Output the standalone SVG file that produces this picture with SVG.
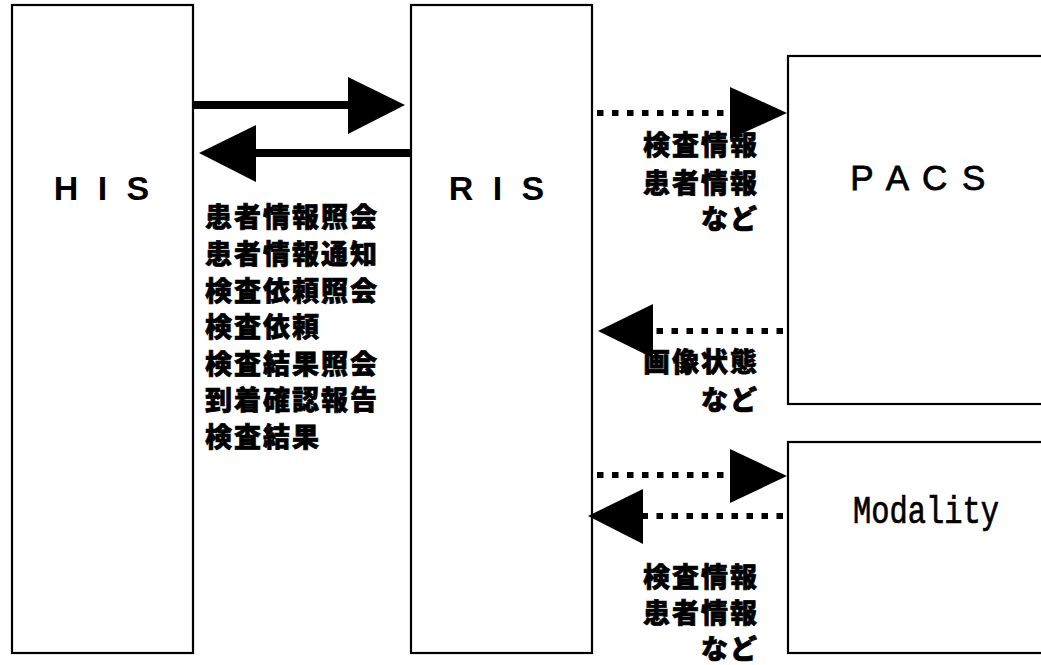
<svg xmlns="http://www.w3.org/2000/svg" width="1041" height="665" viewBox="0 0 1041 665">
<style>
.box{fill:#fff;stroke:#000;stroke-width:2.2}
.lbl{font-family:"Liberation Sans",Arial,sans-serif;font-size:34px;font-weight:bold;fill:#000}
.jp{font-family:"Noto Sans CJK JP","Noto Sans",sans-serif;font-size:27px;font-weight:900;letter-spacing:2px;fill:#000;stroke:#000;stroke-width:0.7}
.solid{stroke:#000;stroke-width:8;fill:none}
.dot{stroke:#000;stroke-width:6;stroke-dasharray:6.5 8.5;fill:none}
.head{fill:#000}
</style>
<rect width="1041" height="665" fill="#fff"/>
<g id="HIS">
<rect class="box" x="12" y="5" width="181" height="648"/>
<text class="lbl" x="104" y="200" text-anchor="middle" letter-spacing="5">H I S</text>
</g>
<g id="RIS">
<rect class="box" x="411" y="5" width="181" height="648"/>
<text class="lbl" x="499" y="200" text-anchor="middle" letter-spacing="5">R I S</text>
</g>
<g id="PACS">
<rect class="box" x="788" y="56" width="270" height="348"/>
<text x="919" y="190" text-anchor="middle" font-family="Liberation Sans,Arial,sans-serif" font-size="35" fill="#000" stroke="#000" stroke-width="0.8" letter-spacing="2.5">P A C S</text>
</g>
<g id="Modality">
<rect class="box" x="788" y="442" width="270" height="211"/>
<text transform="translate(926,523) scale(0.8,1)" text-anchor="middle" font-family="Liberation Mono,Courier New,monospace" font-size="38" fill="#000" stroke="#000" stroke-width="0.7">Modality</text>
</g>
<g id="connectors">
<line class="solid" x1="193" y1="105" x2="352" y2="105"/>
<polygon class="head" points="348,77 405,105 348,134"/>
<line class="solid" x1="411" y1="153" x2="252" y2="153"/>
<polygon class="head" points="256,125 199,153 256,182"/>
<line class="dot" x1="597" y1="113" x2="732" y2="113"/>
<polygon class="head" points="730,87 787,113 730,139"/>
<line class="dot" x1="783" y1="331" x2="650" y2="331"/>
<polygon class="head" points="653,304 598,331 653,358"/>
<line class="dot" x1="597" y1="475" x2="732" y2="475"/>
<polygon class="head" points="730,449 787,476 730,503"/>
<line class="dot" x1="783" y1="516" x2="640" y2="516"/>
<polygon class="head" points="643,489 588,516 643,544"/>
</g>
<g id="labels">
<text class="jp" x="205" y="227">患者情報照会</text>
<text class="jp" x="205" y="264">患者情報通知</text>
<text class="jp" x="205" y="301">検査依頼照会</text>
<text class="jp" x="205" y="337">検査依頼</text>
<text class="jp" x="205" y="374">検査結果照会</text>
<text class="jp" x="205" y="410">到着確認報告</text>
<text class="jp" x="205" y="447">検査結果</text>
<text class="jp" x="759" y="155" text-anchor="end">検査情報</text>
<text class="jp" x="759" y="193" text-anchor="end">患者情報</text>
<text class="jp" x="759" y="229" text-anchor="end">など</text>
<text class="jp" x="759" y="372" text-anchor="end">画像状態</text>
<text class="jp" x="759" y="410" text-anchor="end">など</text>
<text class="jp" x="759" y="587" text-anchor="end">検査情報</text>
<text class="jp" x="759" y="623" text-anchor="end">患者情報</text>
<text class="jp" x="759" y="659" text-anchor="end">など</text>
</g>
</svg>
